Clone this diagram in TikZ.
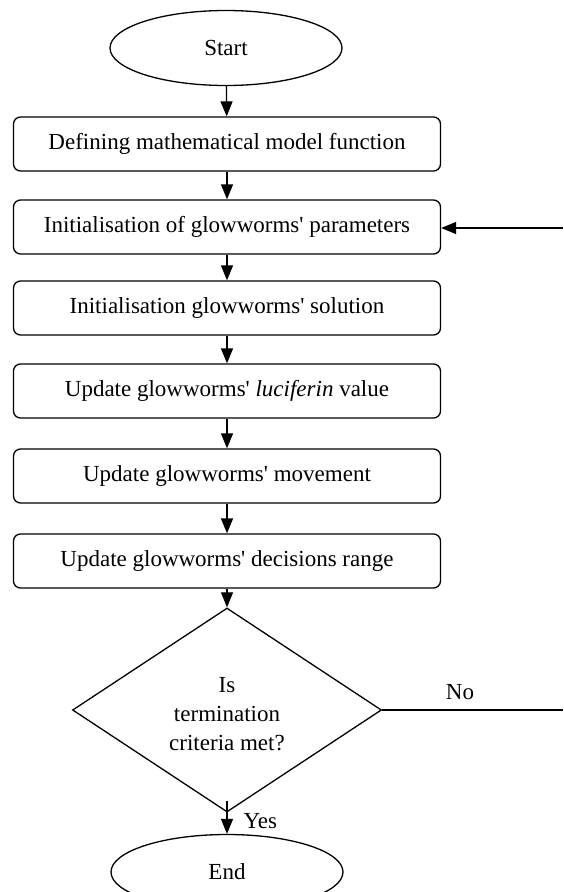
\documentclass[tikz,border=0pt]{standalone}
\usepackage{fontspec}
\setmainfont{Liberation Serif}
\usetikzlibrary{shapes.geometric,arrows.meta}
\newcommand\ap{\textquotesingle}
\begin{document}
\begin{tikzpicture}[x=1pt,y=-1pt,
  every node/.style={font=\fontsize{23}{29}\selectfont},
  term/.style={draw,line width=1.3pt,ellipse,minimum width=232pt,minimum height=75pt,inner sep=0pt},
  proc/.style={draw,line width=1.3pt,rounded corners=7pt,minimum width=427pt,minimum height=54pt,inner sep=0pt},
  dec/.style={draw,line width=1.3pt,diamond,minimum width=309pt,minimum height=204pt,inner sep=0pt,align=center},
  flow/.style={line width=1.3pt,-{Triangle[length=15pt,width=12pt]}},
  plain/.style={line width=1.3pt}]
\useasboundingbox (0,0) rectangle (563,892);
\node[term] (start) at (226,48) {Start};
\node[proc] (b1) at (227,144) {Defining mathematical model function};
\node[proc] (b2) at (227,227) {Initialisation of glowworms\ap{} parameters};
\node[proc] (b3) at (227,308) {Initialisation glowworms\ap{} solution};
\node[proc] (b4) at (227,391) {Update glowworms\ap{} \textit{luciferin} value};
\node[proc] (b5) at (227,476) {Update glowworms\ap{} movement};
\node[proc] (b6) at (227,561) {Update glowworms\ap{} decisions range};
\node[dec] (d) at (227,710) {};
\node (dtext) at (227,714) [align=center] {Is\\termination\\criteria met?};
\node[term] (end) at (227,872) {End};
\coordinate (noend) at (563,710);
\coordinate (backin) at (563,228);
\draw[flow] (start) -- (b1);
\draw[flow] (b1) -- (b2);
\draw[flow] (b2) -- (b3);
\draw[flow] (b3) -- (b4);
\draw[flow] (b4) -- (b5);
\draw[flow] (b5) -- (b6);
\draw[flow] (b6) -- (d);
\draw[flow] ([yshift=12pt]d.south) -- (end);
\draw[plain] (d.east) -- (noend);
\draw[flow] (backin) -- (b2.east |- backin);
\node (no) at (460,692) {No};
\node[anchor=west] (yes) at (240,821) {Yes};
\end{tikzpicture}
\end{document}
